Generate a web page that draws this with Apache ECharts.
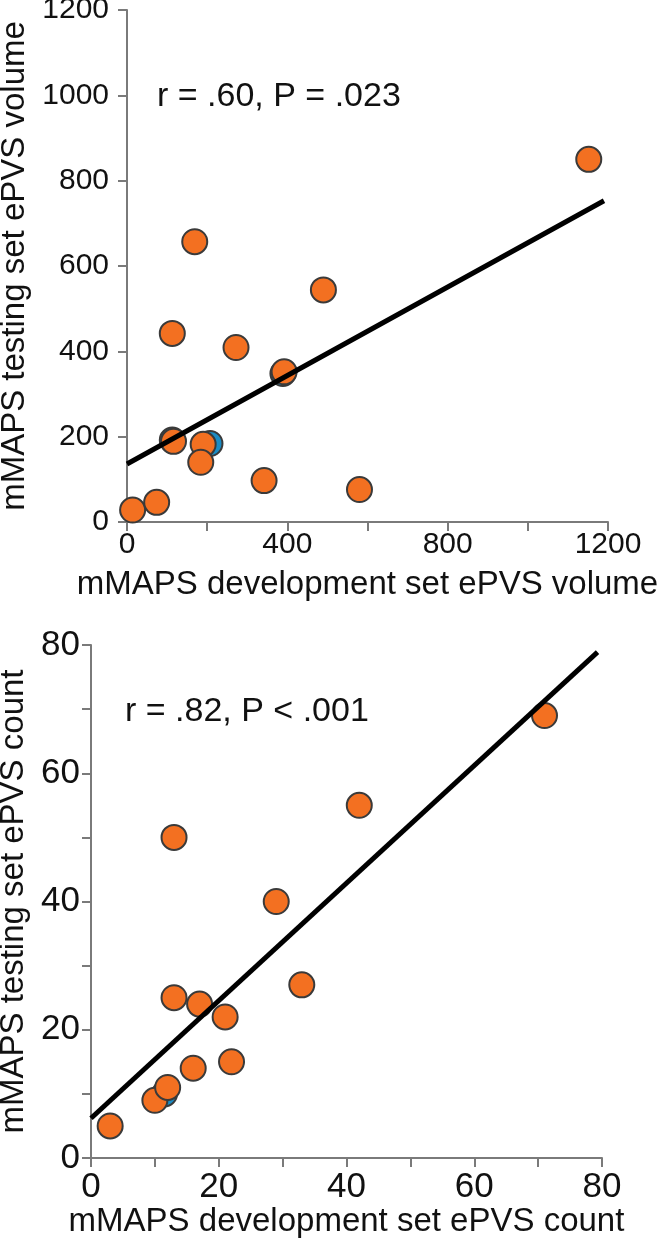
<!DOCTYPE html>
<html>
<head>
<meta charset="utf-8">
<title>mMAPS ePVS</title>
<script src="https://cdn.jsdelivr.net/npm/echarts@6/dist/echarts.min.js"></script>
<style>
  html, body { margin: 0; padding: 0; background: #fff; }
  #chart { width: 663px; height: 1239px; }
</style>
</head>
<body>
<div id="chart"></div>
<script>
// top panel: ePVS volume
var volOrange = [[14,28],[74,46],[116,189],[190,182],[184,140],[342,97],[392,352],[272,409],[113,442],[169,657],[490,544],[580,76],[1152,850]];
var volBlue = [[207,184],[113,192],[389,348]];
var volLine = [[0,136],[1190,753]];
var volYLabels = [0,200,400,600,800,1000,1200];
var volXLabels = [0,400,800,1200];

// bottom panel: ePVS count
var cntOrange = [[3,5],[10,9],[12,11],[16,14],[22,15],[21,22],[17,24],[13,25],[33,27],[29,40],[13,50],[42,55],[71,69]];
var cntBlue = [[11.5,10]];
var cntLine = [[0,6.2],[79.3,78.9]];
var cntLabels = [0,20,40,60,80];

var FONT = '"Liberation Sans", Arial, sans-serif';
var axisGray = '#7a7a7a';
var orange = '#f37021';
var blue = '#1b8cc4';

function baseAxis(min, max, interval, fontSize, shown) {
    return {
        type: 'value',
        min: min,
        max: max,
        interval: interval,
        axisLine: {show: true, lineStyle: {color: axisGray, width: 2}},
        axisTick: {show: true, inside: false, length: 9, lineStyle: {color: axisGray, width: 2}},
        splitLine: {show: false},
        axisLabel: {
            color: '#111',
            fontFamily: FONT,
            fontSize: fontSize,
            formatter: function (v) { return shown.indexOf(v) >= 0 ? String(v) : ''; }
        },
        nameLocation: 'middle',
        nameTextStyle: {color: '#111', fontFamily: FONT, fontSize: 33}
    };
}

var chart = echarts.init(document.getElementById('chart'));

var xTop = baseAxis(0, 1200, 200, 30, volXLabels);
xTop.gridIndex = 0;
xTop.name = 'mMAPS development set ePVS volume';
xTop.nameGap = 46;
xTop.axisLabel.margin = 8;

var yTop = baseAxis(0, 1200, 200, 30, volYLabels);
yTop.gridIndex = 0;
yTop.name = 'mMAPS testing set ePVS volume';
yTop.nameGap = 90;
yTop.axisLabel.margin = 18;

var xBot = baseAxis(0, 80, 10, 35, cntLabels);
xBot.gridIndex = 1;
xBot.name = 'mMAPS development set ePVS count';
xBot.nameGap = 46;
xBot.axisLabel.margin = 12;

var yBot = baseAxis(0, 80, 10, 35, cntLabels);
yBot.gridIndex = 1;
yBot.name = 'mMAPS testing set ePVS count';
yBot.nameGap = 60;
yBot.axisLabel.margin = 11;

function dots(data, color, xi) {
    return {
        type: 'scatter',
        xAxisIndex: xi,
        yAxisIndex: xi,
        data: data,
        symbolSize: 25,
        itemStyle: {color: color, borderColor: '#3a3a3a', borderWidth: 2, opacity: 1},
        z: color === blue ? 2 : 3
    };
}

function fit(data, xi) {
    return {
        type: 'line',
        xAxisIndex: xi,
        yAxisIndex: xi,
        data: data,
        showSymbol: false,
        lineStyle: {color: '#000', width: 5},
        z: 4
    };
}

chart.setOption({
    backgroundColor: '#fff',
    animation: false,
    grid: [
        {left: 127, top: 10, width: 481, height: 512, containLabel: false, outerBoundsMode: 'none'},
        {left: 91, top: 645, width: 511, height: 513, containLabel: false, outerBoundsMode: 'none'}
    ],
    xAxis: [xTop, xBot],
    yAxis: [yTop, yBot],
    graphic: [
        {type: 'text', left: 157, top: 80, style: {text: 'r = .60, P = .023', fontFamily: FONT, fontSize: 34, fill: '#111'}},
        {type: 'text', left: 125, top: 695, style: {text: 'r = .82, P < .001', fontFamily: FONT, fontSize: 34, fill: '#111'}}
    ],
    series: [
        dots(volBlue, blue, 0),
        dots(volOrange, orange, 0),
        fit(volLine, 0),
        dots(cntBlue, blue, 1),
        dots(cntOrange, orange, 1),
        fit(cntLine, 1)
    ]
});
</script>
</body>
</html>
